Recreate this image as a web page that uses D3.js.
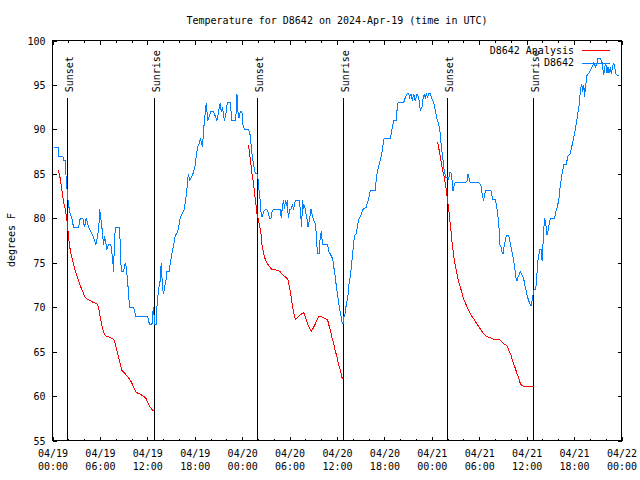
<!DOCTYPE html>
<html><head><meta charset="utf-8">
<script src="https://cdn.jsdelivr.net/npm/d3@7"></script>
<style>
body{margin:0;background:#fff;}
svg{display:block;}
text{font-family:"DejaVu Sans Mono",monospace;font-size:10px;fill:#000;}
</style></head><body>
<svg id="chart" width="640" height="480"></svg>
<script>
const chartTitle = "Temperature for D8642 on 2024-Apr-19 (time in UTC)";
const yLabel = "degrees F";
const seriesNames = ["D8642 Analysis", "D8642"];
const seriesColors = ["#ff0000", "#0080ff"];
const startTime = "2024-04-19T00:00:00Z";
const endTime = "2024-04-22T00:00:00Z";
const yDomain = [55, 100];
const yTicks = [55, 60, 65, 70, 75, 80, 85, 90, 95, 100];

const sunLabels = ["Sunset", "Sunrise", "Sunset", "Sunrise", "Sunset", "Sunrise"];
const sunHours = [1.9, 12.92, 25.95, 36.84, 50.0, 60.89];
const sunLineTop = 93.5;

// D8642 observations: hours since 04/19 00:00 UTC, temperature F
const obsHours = [0.22,0.76,0.77,1.31,1.40,1.61,1.73,1.90,2.03,2.24,
2.45,2.66,3.30,3.51,3.84,4.05,4.27,4.56,4.86,5.11,
5.49,5.70,5.87,5.95,6.04,6.25,6.46,6.59,6.88,7.09,
7.39,7.60,7.73,7.85,8.02,8.49,8.57,8.70,8.99,9.20,
9.33,9.50,9.75,10.26,10.55,12.03,12.28,12.58,12.70,12.79,
12.92,13.13,13.21,13.42,13.63,13.76,13.93,14.05,14.14,14.35,
14.48,14.77,14.90,15.11,15.32,15.53,15.83,15.95,16.16,16.38,
16.67,16.92,17.09,17.18,17.35,17.52,17.77,18.06,18.19,18.36,
18.61,18.70,18.86,18.99,19.12,19.24,19.37,19.46,19.54,19.67,
19.84,20.05,20.38,20.59,20.81,21.02,21.23,21.35,21.52,21.65,
21.78,21.99,22.11,22.49,22.70,23.13,23.25,23.34,23.46,23.59,
23.76,23.97,24.10,24.27,24.81,25.03,25.15,25.28,25.45,25.66,
25.87,26.00,
26.08,26.21,26.38,26.50,26.71,26.92,27.13,27.35,27.47,27.64,
27.77,27.98,28.82,28.95,29.12,29.25,29.37,29.46,29.58,29.71,
29.84,30.01,30.17,30.34,30.51,30.72,31.23,31.35,31.52,31.65,
31.78,31.90,32.03,32.20,32.33,32.54,32.71,32.96,33.05,33.25,
33.38,33.46,33.55,33.76,33.89,34.01,34.18,34.31,34.81,34.98,
35.15,35.36,35.49,35.66,35.78,35.91,36.08,36.20,36.33,36.50,
36.63,36.76,36.84,36.97,37.09,37.26,37.39,37.51,37.68,37.81,
37.94,38.10,38.23,38.44,38.65,38.82,39.03,39.25,39.67,39.79,
40.00,40.21,40.85,40.97,41.14,41.40,41.69,41.90,41.99,42.75,
42.96,43.17,43.50,43.59,43.72,44.43,44.65,44.86,45.07,45.19,
45.36,45.53,45.70,45.91,46.12,46.33,46.54,46.76,46.88,47.05,
47.18,47.30,47.47,47.60,47.81,48.02,48.23,48.44,48.65,48.86,
49.08,49.20,49.37,49.50,49.63,49.79,50.00,50.13,50.25,50.42,
50.55,50.68,50.85,50.97,
51.61,52.24,52.45,52.58,52.70,52.87,53.93,54.14,54.27,54.39,
54.56,54.69,54.81,55.49,55.62,55.74,56.04,56.16,56.33,56.46,
56.54,56.59,56.76,56.88,57.01,57.09,57.30,57.43,57.73,57.85,
58.02,58.19,58.36,58.49,58.61,58.78,58.91,59.08,59.20,59.41,
59.62,59.75,59.92,60.05,60.26,60.38,60.55,60.68,60.80,60.89,
61.10,61.22,61.39,61.52,61.65,61.82,61.95,62.03,62.16,62.28,
62.41,62.58,62.70,62.87,63.00,63.55,63.63,63.84,64.06,64.27,
64.48,64.69,65.03,65.20,65.37,65.53,65.74,65.95,66.17,66.38,
66.50,66.63,66.71,66.84,66.97,67.09,67.22,67.35,67.43,67.56,
67.64,67.85,68.06,68.27,68.49,68.70,68.91,69.03,69.33,69.54,
69.67,69.75,69.88,70.00,70.17,70.30,70.43,70.60,70.72,70.85,
71.01,71.14,71.27,71.44,71.73];
const obsTemp = [88,88,87,87,86.5,86.5,84.5,82.5,81.5,80.5,
80,79,79,80,80,79,80,79,78.5,78,
77,78,79,81,80.5,79,77,78,76.5,77,
77,75.5,74,78,79,79,77,74,74,75,
74.5,73,70,70,69,69,68,68,69.5,70,
68,68,70,72,73,75,72,71.5,72,73,
74,74,75,76,77,78,78.5,79,80,80.5,
81,82.5,84,85,84.3,84.5,85,86,87,88,
88.5,89,88.5,88,90,91,92.4,93,92,91,
91.5,92,92,91.5,91,92,93,92,92.5,91.5,
91,92,93,93,91,91,92,94,92,91.3,
92,92,90.5,90,90,89.3,88,87,86,85,
85,84.5,
83.5,82.75,80.7,80.1,80.7,81,81,80.5,80,80,
80.7,81,81,80,81.6,82,81,82,81.4,82,
80,81,81,81.5,81,82,82,81,79,82,
81,81.5,80.7,80,79,80,81,80,79.8,79.4,
78.25,76.9,76,76,78.25,78.4,77.1,77,77,76.2,
76,75.6,75.25,74.1,73.4,72.4,71.3,70.6,69.8,69.1,
68.3,68.1,68.9,68.9,69.8,70.7,71.3,72.6,73.4,74.5,
75.6,77.1,78.1,78.25,79.4,80,80.3,81,81.2,81.6,
82.2,83.1,83.1,84.4,85.4,86.3,87.4,88.75,89,89,
90,91,91,92.1,93,93,93.6,94,94,93.6,
94,93.2,94,93.2,94,93.6,92.1,92.5,93.4,94,
93.4,94,93.6,94,94,93.4,93,92.1,91.2,90.6,
89.5,88,86.9,85.8,85.1,84.6,84.6,84.3,85.1,85.1,
84.3,83.1,83.8,84,
84,84,84.2,85,84.5,84,84,83.8,83.5,82.5,
82.1,82.7,83.1,83.1,82.5,82.1,82.1,81.6,80.6,79.3,
78.6,77.1,76.75,76.2,76,76.6,77.5,78.1,78.1,77.5,
76.75,76,75.25,74.5,73.4,73,73.4,73.75,74,73.6,
73.2,72.6,71.9,71.3,70.75,70.4,70.1,70.75,71.3,71.9,
72,72.6,75,75.75,76.5,76.5,75.25,76.4,78.8,80,
79.4,78.1,78.6,79.4,80,80,80.5,81.2,82,83.8,
85,86,86.1,87,87.1,87.3,88.2,89.1,90.1,91.2,
92,92.7,93.6,94.6,95.1,94.2,95,93.6,95.1,95.3,
96.1,96.3,96.6,97,97.5,97,97.5,98,98,97.5,
96.6,96.1,97,97.5,96.3,97,96.3,97,96.2,97,
97.5,97,96.3,96.1,96.1];

// D8642 Analysis: three night-time segments
const anaHours1 = [0.76,0.97,1.19,1.40,1.61,1.82,1.94,2.03,2.16,2.33,
2.54,2.66,2.87,3.08,3.30,3.51,3.72,3.93,4.14,4.43,
4.77,5.11,5.62,5.83,5.95,6.12,6.29,6.46,6.67,6.88,
7.30,7.73,7.94,8.15,8.36,8.57,8.78,8.99,9.20,9.50,
9.75,9.96,10.17,10.38,10.59,10.89,11.31,11.65,11.86,12.03,
12.24,12.49,12.79];
const anaTemp1 = [85.4,84.5,83.2,81.9,81,79.9,78.8,77.9,76.9,76,
75.25,74.9,74.1,73.6,73,72.4,72,71.5,71.1,70.9,
70.75,70.55,70.4,70,69.25,68.5,67.75,67.2,66.8,66.7,
66.6,66.4,65.9,65.1,64.4,63.6,62.9,62.7,62.5,62.2,
61.9,61.6,61.2,60.8,60.4,60.3,60.1,59.9,59.7,59.3,
58.9,58.6,58.3];
const anaHours2 = [24.81,24.94,25.11,25.24,25.45,25.57,25.74,25.87,26.00,26.12,
26.29,26.38,26.50,26.71,26.92,27.13,27.35,27.77,28.19,28.74,
29.03,29.46,29.79,30.00,30.22,30.38,30.59,30.76,31.27,31.78,
31.99,32.20,32.41,32.75,32.96,33.25,33.55,33.76,34.31,34.81,
34.94,35.15,35.36,35.57,35.78,35.99,36.20,36.42,36.63,36.75];
const anaTemp2 = [88.2,87.25,86.1,85,83.9,82.75,81.6,80.5,80,79.5,
78.8,78.25,77.1,76,75.4,75,74.7,74.2,74.2,74.05,
73.75,73.4,73.1,72.25,71.1,70,69.1,68.6,69.1,69.4,
68.9,68.3,67.8,67.3,67.6,68.1,68.7,69,68.8,68.6,
68.1,67.4,66.6,65.9,65.1,64.4,63.6,62.9,62.1,61.9];
const anaHours3 = [48.74,48.86,48.99,49.16,49.29,49.41,49.58,49.71,49.84,50.00,
50.13,50.25,50.34,50.47,50.55,50.68,50.76,50.89,51.06,51.19,
51.31,51.48,51.61,51.78,51.95,52.12,52.28,52.45,52.66,52.87,
53.08,53.29,53.51,53.72,53.93,54.14,54.35,54.56,54.77,54.98,
55.41,55.83,56.46,56.67,56.88,57.09,57.43,57.60,57.77,57.94,
58.15,58.36,58.57,58.78,59.00,59.20,59.41,59.62,60.89];
const anaTemp3 = [88.6,88,87.3,86.5,85.8,85.2,84.6,83.9,83.1,82,
81,80.1,79.2,78.25,77.3,76.4,75.8,75,74.3,73.75,
73.2,72.6,72.25,71.7,71.1,70.75,70.4,70,69.6,69.25,
68.95,68.7,68.4,68.1,67.8,67.55,67.25,67,66.8,66.7,
66.55,66.4,66.4,66.3,66.05,65.9,65.7,65.5,65.1,64.8,
64.2,63.6,63.1,62.5,62,61.4,61.2,61.1,61.1];

const svg = d3.select("#chart").attr("shape-rendering", "crispEdges");
const t0 = new Date(startTime), t1 = new Date(endTime);
const toDate = h => new Date(t0.getTime() + h * 3600000);
const L = 52.5, R = 621.5, T = 40.5, B = 440.5;
const x = d3.scaleUtc().domain([t0, t1]).range([L, R]);
const y = d3.scaleLinear().domain(yDomain).range([B, T]);

const majorTicks = x.ticks(d3.utcHour.every(6));
const minorTicks = x.ticks(d3.utcHour.every(2)).filter(d => d.getUTCHours() % 6 !== 0);
const fmtDay = d3.utcFormat("%m/%d"), fmtHour = d3.utcFormat("%H:%M");

function styleAxis(g) {
  g.select(".domain").remove();
  g.selectAll(".tick line").attr("stroke", "#000");
}
// bottom axis major
const gxB = svg.append("g").attr("transform", `translate(0,${B})`)
  .call(d3.axisBottom(x).tickValues(majorTicks).tickSize(-4).tickFormat(fmtDay))
  .call(styleAxis);
gxB.selectAll(".tick text").each(function(d) {
  const t = d3.select(this).attr("y", null).attr("dy", null).text(null);
  t.append("tspan").attr("x", 0).attr("y", 12.5).attr("dy", "0.35em").text(fmtDay(d));
  t.append("tspan").attr("x", 0).attr("y", 25.5).attr("dy", "0.35em").text(fmtHour(d));
});
svg.append("g").attr("transform", `translate(0,${B})`)
  .call(d3.axisBottom(x).tickValues(minorTicks).tickSize(-2).tickFormat(""))
  .call(styleAxis);
// top axis
svg.append("g").attr("transform", `translate(0,${T})`)
  .call(d3.axisTop(x).tickValues(majorTicks).tickSize(-4).tickFormat(""))
  .call(styleAxis);
svg.append("g").attr("transform", `translate(0,${T})`)
  .call(d3.axisTop(x).tickValues(minorTicks).tickSize(-2).tickFormat(""))
  .call(styleAxis);
// left / right axes
const gyL = svg.append("g").attr("transform", `translate(${L},0)`)
  .call(d3.axisLeft(y).tickValues(yTicks).tickSize(-4).tickPadding(7))
  .call(styleAxis);
gyL.selectAll(".tick text").attr("dy", "0.35em");
svg.append("g").attr("transform", `translate(${R},0)`)
  .call(d3.axisRight(y).tickValues(yTicks).tickSize(-4).tickFormat(""))
  .call(styleAxis);

// frame
svg.append("rect").attr("x", L).attr("y", T).attr("width", R - L).attr("height", B - T)
  .attr("fill", "none").attr("stroke", "#000");

// sunrise / sunset markers
sunHours.forEach((h, i) => {
  const px = x(toDate(h));
  svg.append("line").attr("x1", px).attr("x2", px).attr("y1", y(yDomain[0])).attr("y2", y(sunLineTop))
    .attr("stroke", "#000").attr("stroke-width", 1);
  svg.append("text").attr("transform", `translate(${px + 1.5},${y(sunLineTop) - 6}) rotate(-90)`)
    .attr("text-anchor", "start").attr("dy", "0.35em").text(sunLabels[i]);
});

const line = d3.line().x(d => x(toDate(d[0]))).y(d => y(d[1]));
[[anaHours1, anaTemp1], [anaHours2, anaTemp2], [anaHours3, anaTemp3]].forEach(([hs, ts]) => {
  svg.append("path").datum(hs.map((h, i) => [h, ts[i]])).attr("d", line)
    .attr("fill", "none").attr("stroke", seriesColors[0]).attr("stroke-width", 1);
});
svg.append("path").datum(obsHours.map((h, i) => [h, obsTemp[i]])).attr("d", line)
  .attr("fill", "none").attr("stroke", seriesColors[1]).attr("stroke-width", 1);

// legend
seriesNames.forEach((name, i) => {
  const ly = 50 + i * 12.5;
  svg.append("text").attr("x", 574).attr("y", ly).attr("dy", "0.35em").attr("text-anchor", "end").text(name);
  svg.append("line").attr("x1", 582).attr("x2", 610).attr("y1", ly + 0.5).attr("y2", ly + 0.5)
    .attr("stroke", seriesColors[i]).attr("stroke-width", 1);
});

// title and y label
svg.append("text").attr("x", 337).attr("y", 20).attr("dy", "0.35em").attr("text-anchor", "middle").text(chartTitle);
svg.append("text").attr("transform", "translate(11,240) rotate(-90)").attr("dy", "0.35em")
  .attr("text-anchor", "middle").text(yLabel);
</script>
</body></html>
